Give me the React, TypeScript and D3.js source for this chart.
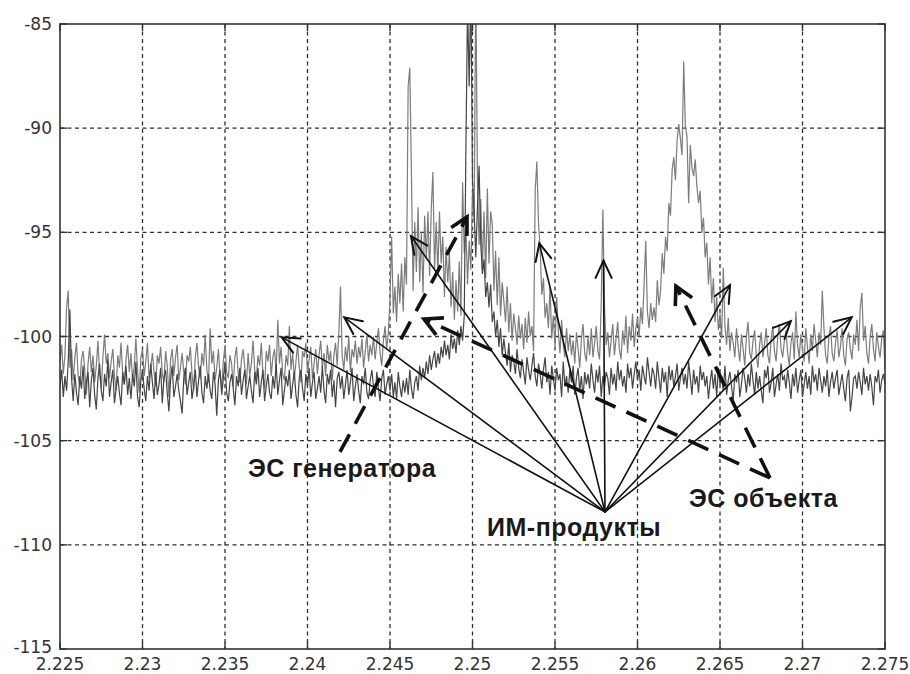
import React from 'react';
import * as d3 from 'd3';

// Spectrum sampling grid (GHz)
const FREQ_START = 2.225;
const FREQ_STEP = 0.0001;

const xTicks = [2.225, 2.23, 2.235, 2.24, 2.245, 2.25, 2.255, 2.26, 2.265, 2.27, 2.275];
const xTickLabels = ['2.225', '2.23', '2.235', '2.24', '2.245', '2.25', '2.255', '2.26', '2.265', '2.27', '2.275'];
const yTicks = [-85, -90, -95, -100, -105, -110, -115];
const yTickLabels = ['-85', '-90', '-95', '-100', '-105', '-110', '-115'];

// Received level with the object present, dB
const withObject = [
  -101.2, -100.4, -101.8, -100.9, -98.6, -97.8, -101.5, -100.6, -102.1, -101.0,
  -100.3, -101.9, -102.4, -101.1, -100.7, -101.6, -102.8, -101.3, -100.5, -101.7,
  -100.9, -102.2, -101.4, -100.2, -101.8, -102.5, -101.0, -99.9, -101.3, -100.8,
  -102.0, -101.2, -100.6, -101.9, -102.6, -100.9, -101.5, -100.3, -101.8, -102.3,
  -101.1, -100.4, -101.7, -100.8, -102.1, -101.4, -100.1, -101.6, -102.7, -101.0,
  -100.6, -101.9, -101.2, -100.3, -102.0, -101.5, -100.8, -101.7, -102.4, -100.9,
  -101.3, -100.5, -101.8, -102.2, -100.7, -101.4, -102.9, -101.1, -100.6, -101.9,
  -101.0, -100.4, -102.1, -101.5, -100.8, -101.7, -102.3, -100.9, -101.2, -100.5,
  -101.8, -102.6, -101.0, -100.3, -101.5, -102.0, -100.8, -101.4, -99.9, -101.6,
  -102.2, -99.6, -101.3, -100.7, -102.1, -101.5, -100.6, -101.9, -102.5, -101.2,
  -100.4, -101.7, -102.0, -100.9, -101.3, -102.4, -101.0, -100.5, -101.8, -102.2,
  -101.1, -100.6, -101.5, -102.3, -100.8, -101.9, -101.3, -100.2, -101.6, -102.0,
  -100.9, -101.4, -100.3, -101.8, -102.5, -100.7, -101.2, -100.4, -101.9, -101.0,
  -100.6, -101.7, -99.2, -101.3, -100.5, -101.8, -102.1, -100.9, -101.4, -99.5,
  -101.6, -100.8, -102.0, -101.2, -100.4, -101.5, -102.2, -100.7, -101.0, -100.3,
  -101.7, -101.1, -100.5, -102.0, -101.3, -100.6, -101.8, -100.9, -100.2, -101.5,
  -100.8, -101.9, -100.4, -101.2, -100.7, -102.1, -100.9, -100.3, -101.4, -99.8,
  -97.6, -100.9, -101.6, -100.5, -101.2, -100.0, -101.7, -100.6, -101.0, -100.2,
  -101.3, -100.5, -101.0, -100.1, -101.5, -100.7, -99.9, -101.2, -100.4, -100.9,
  -100.0, -101.1, -100.3, -99.6, -100.8, -101.4, -100.2, -99.5, -100.6, -99.8,
  -98.2, -95.2, -98.9, -97.6, -99.3, -97.0, -98.4, -96.5, -98.8, -96.2,
  -97.5, -88.0, -87.1, -92.3, -97.8, -94.5, -96.9, -93.8, -97.4, -95.0,
  -97.9, -94.2, -96.3, -94.0, -97.1, -93.9, -92.1, -96.8, -94.5, -97.0,
  -94.0, -96.5, -95.2, -98.1, -95.7, -97.4, -96.0, -98.6, -96.9, -99.2,
  -97.3, -98.8, -96.4, -99.0, -92.6, -96.0, -94.8, -97.5, -95.4, -96.8,
  -93.0, -94.5, -83.0, -92.5, -95.6, -93.4, -96.8, -94.0, -97.2, -92.9,
  -96.5, -94.0, -94.6, -97.8, -95.9, -98.5, -96.2, -99.0, -97.4, -98.3,
  -99.3, -97.6, -99.8, -98.4, -100.2, -98.9, -99.6, -100.4, -99.0, -100.1,
  -99.4, -100.6, -99.1, -100.3, -98.8, -100.0, -99.5, -100.7, -93.0, -91.6,
  -94.5, -95.8, -98.0, -97.2, -99.1, -98.4, -99.6, -97.6, -100.1, -99.0,
  -100.5, -98.1, -99.7, -100.8, -99.2, -100.4, -101.0, -99.6, -100.7, -99.9,
  -100.9, -100.2, -101.3, -99.8, -100.6, -101.5, -100.1, -99.4, -100.8, -101.2,
  -100.0, -100.9, -99.6, -101.0, -100.3, -99.5, -100.7, -101.1, -98.5, -93.9,
  -98.6, -100.4, -99.8, -101.0, -100.2, -99.4, -100.9, -100.1, -99.3, -100.6,
  -101.1, -99.7, -100.4, -99.0, -100.8, -99.5, -100.2, -98.9, -100.5, -99.6,
  -99.1, -100.0, -98.6, -99.4, -97.5, -95.4, -98.8, -99.6, -98.4, -99.2,
  -98.6, -99.3, -97.3, -98.5, -97.8, -96.0, -97.0, -95.2, -95.9, -93.6,
  -94.2, -92.0, -91.4, -92.5, -90.6, -89.8, -90.5, -91.3, -86.8, -89.9,
  -90.4, -93.6, -90.8, -91.9, -92.3, -91.5, -92.8, -93.6, -93.0, -95.0,
  -94.3, -96.2, -95.5, -97.5, -96.2, -98.4, -97.2, -99.3, -98.1, -99.7,
  -98.9, -100.1, -96.7, -99.5, -100.4, -99.1, -100.7, -99.8, -100.3, -101.0,
  -99.6, -100.5, -101.2, -99.9, -100.6, -101.4, -100.0, -99.3, -100.8, -101.1,
  -100.2, -99.7, -100.9, -101.5, -100.4, -99.8, -101.0, -100.3, -99.6, -100.9,
  -101.3, -100.1, -99.5, -100.7, -101.2, -100.0, -99.4, -100.6, -101.0, -100.2,
  -99.7, -100.8, -101.4, -100.3, -99.8, -101.1, -98.8, -100.4, -101.0, -99.9,
  -100.6, -101.2, -99.6, -100.5, -101.3, -99.9, -100.7, -99.4, -100.2, -101.0,
  -99.8, -100.4, -97.8, -99.6, -100.9, -101.3, -100.0, -99.5, -100.8, -101.2,
  -100.3, -99.7, -101.0, -100.5, -99.6, -100.9, -101.4, -100.1, -99.8, -100.6,
  -101.1, -99.9, -100.4, -99.2, -100.7, -98.6, -97.9, -100.2, -99.5, -100.8,
  -101.3, -100.0, -99.4, -100.6, -101.2, -99.8, -100.5, -101.0, -100.1, -99.7,
  -101.6,
];

// Received level from the generator alone, dB
const generatorOnly = [
  -102.4, -101.6, -102.9, -101.9, -102.6, -101.2, -98.7, -102.0, -103.1, -101.8,
  -102.7, -103.3, -101.9, -102.5, -101.4, -103.0, -102.2, -101.7, -103.4, -102.1,
  -101.5, -102.8, -103.5, -102.0, -101.3, -102.6, -103.1, -101.8, -102.4, -101.1,
  -102.9, -102.2, -101.6, -103.2, -102.5, -101.9, -102.7, -103.3, -101.7, -102.3,
  -101.4, -102.8, -102.0, -103.0, -101.8, -102.4, -101.2, -102.9, -103.4, -102.1,
  -101.6, -102.5, -103.1, -101.9, -102.6, -101.3, -102.2, -103.0, -101.7, -102.8,
  -102.3, -101.5, -103.2, -102.0, -101.6, -102.7, -103.6, -102.1, -101.4, -102.9,
  -102.4, -101.8, -102.6, -103.1, -103.7, -102.0, -101.5, -102.8, -102.2, -101.7,
  -103.0, -102.4, -101.6, -102.9, -102.1, -101.4, -102.7, -103.2, -101.9, -102.5,
  -101.8, -102.6, -103.0, -101.7, -102.3, -103.8, -102.1, -101.6, -102.8, -102.0,
  -101.3, -102.7, -103.1, -102.2, -101.8, -102.5, -103.3, -101.9, -102.4, -101.5,
  -102.8, -102.1, -101.6, -103.0, -102.4, -101.9, -102.6, -103.2, -101.7, -102.3,
  -101.5, -102.9, -102.2, -101.6, -103.1, -102.4, -101.8, -102.7, -103.0, -101.9,
  -102.5, -101.3, -102.8, -102.1, -101.5, -103.3, -102.6, -101.9, -102.4, -101.6,
  -103.0, -102.3, -101.7, -102.8, -103.4, -102.0, -101.6, -102.5, -103.1, -101.8,
  -102.4, -101.5, -102.9, -102.2, -101.7, -103.0, -102.5, -101.9, -102.7, -101.4,
  -102.6, -103.2, -101.8, -102.3, -101.6, -102.9, -102.1, -103.4, -102.0, -101.7,
  -102.5, -101.9, -103.0, -102.3, -101.6, -102.8, -102.2, -101.5, -103.1, -102.4,
  -101.8, -102.6, -103.2, -101.9, -102.3, -101.5, -102.7, -103.0, -102.1, -101.6,
  -102.4, -102.9, -101.7, -102.5, -103.1, -102.0, -101.6, -102.8, -102.3, -101.9,
  -102.6, -101.8, -102.9, -102.2, -103.0, -101.7, -102.4, -102.9, -102.1, -102.7,
  -102.0, -102.8, -101.6, -102.5, -103.0, -102.2, -101.9, -102.6, -101.4, -102.1,
  -101.5, -102.0, -101.2, -101.8, -100.9, -101.6, -101.1, -100.7, -101.5, -100.8,
  -101.3, -100.5, -101.0, -100.2, -100.9, -100.4, -101.1, -99.9, -100.6, -100.1,
  -100.8, -99.7, -100.4, -99.5, -100.2, -99.0, -91.0, -84.0, -88.0, -83.0,
  -92.5, -94.0, -96.2, -93.8, -91.8, -95.5, -97.0, -96.3, -98.1, -97.4,
  -98.6, -97.5, -99.3, -98.8, -100.0, -99.2, -100.5, -99.6, -100.9, -100.1,
  -100.8, -101.4, -100.3, -101.7, -100.9, -101.2, -101.8, -100.6, -101.5, -102.0,
  -101.1, -101.7, -102.3, -101.0, -101.6, -102.1, -101.4, -100.8, -101.9, -102.4,
  -101.3, -101.8, -102.5, -101.6, -101.0, -102.2, -101.7, -102.8, -101.4, -102.0,
  -102.6, -101.5, -102.1, -101.8, -102.9, -101.2, -102.4, -101.9, -102.7, -101.6,
  -102.2, -101.4, -102.8, -102.0, -101.5, -102.6, -101.9, -103.0, -101.7, -102.3,
  -101.8, -102.5, -101.3, -102.1, -102.7, -101.6, -102.2, -101.4, -102.9, -101.9,
  -102.4, -101.7, -102.0, -102.8, -101.5, -102.3, -101.8, -102.6, -101.2, -102.1,
  -101.6, -102.4, -101.9, -102.7, -101.3, -102.0, -101.5, -102.5, -101.8, -101.2,
  -102.1, -101.6, -102.6, -101.4, -101.9, -102.3, -101.0, -101.7, -102.4, -101.5,
  -101.8, -102.5, -101.2, -102.0, -102.7, -101.5, -102.2, -101.7, -102.9, -101.4,
  -102.1, -101.6, -102.4, -101.9, -101.3, -102.6, -102.0, -101.5, -102.3, -101.8,
  -102.5, -101.2, -102.0, -102.8, -101.6, -102.3, -101.9, -102.7, -101.4, -102.1,
  -101.7, -102.4, -101.9, -103.0, -102.2, -101.6, -102.5, -101.8, -102.9, -101.5,
  -102.3, -101.9, -102.6, -101.4, -102.8, -102.1, -101.7, -102.4, -103.1, -101.8,
  -102.2, -101.6, -102.9, -102.3, -101.5, -102.0, -102.7, -101.8, -102.4, -101.3,
  -102.1, -102.8, -101.7, -102.5, -101.9, -102.6, -103.2, -101.6, -102.0, -101.4,
  -102.7, -102.2, -101.5, -102.9, -102.3, -101.8, -102.6, -101.3, -102.1, -101.9,
  -102.5, -101.6, -102.2, -103.0, -101.8, -102.4, -101.5, -102.7, -102.1, -101.6,
  -102.9, -102.3, -101.7, -102.5, -101.9, -102.8, -101.4, -102.2, -101.8, -102.6,
  -101.5, -102.1, -102.7, -101.9, -102.4, -101.6, -102.9, -102.2, -101.7, -102.5,
  -102.0, -101.6, -102.8, -102.3, -101.8, -102.5, -103.1, -102.0, -101.6, -103.6,
  -102.9, -102.0, -101.9, -102.5, -101.7, -102.2, -102.8, -101.5, -102.3, -101.9,
  -102.6, -101.8, -102.4, -103.3, -101.9, -102.2, -101.6, -102.7, -102.1, -101.8,
  -102.3,
];

// Annotations, in (frequency, level) coordinates
const imSource: [number, number] = [2.25803, -108.42];
const imTargets: [number, number][] = [
  [2.23844, -100.04],
  [2.24223, -99.08],
  [2.24627, -95.18],
  [2.25405, -95.53],
  [2.25794, -96.36],
  [2.26561, -97.53],
  [2.26929, -99.26],
  [2.27298, -99.08],
];
const genArrowFrom: [number, number] = [2.24197, -105.54];
const genArrowTo: [number, number] = [2.24967, -94.26];
const objVertex: [number, number] = [2.26803, -106.79];
const objTargets: [number, number][] = [
  [2.24706, -99.16],
  [2.26233, -97.58],
];
const labelTexts = ['ЭС генератора', 'ИМ-продукты', 'ЭС объекта'];
const labelAnchors: [number, number][] = [
  [2.23639, -106.74],
  [2.25088, -109.58],
  [2.26312, -108.18],
];

const W = 910;
const H = 674;
const M = { left: 60, right: 25, top: 24, bottom: 25 };

function arrowHead(tip: [number, number], from: [number, number], len: number, spreadDeg: number) {
  const ang = Math.atan2(from[1] - tip[1], from[0] - tip[0]);
  const s = (spreadDeg * Math.PI) / 180;
  const p1 = [tip[0] + len * Math.cos(ang + s), tip[1] + len * Math.sin(ang + s)];
  const p2 = [tip[0] + len * Math.cos(ang - s), tip[1] + len * Math.sin(ang - s)];
  return `M${p1[0]},${p1[1]}L${tip[0]},${tip[1]}L${p2[0]},${p2[1]}`;
}

export default function App() {
  const x = d3.scaleLinear().domain([2.225, 2.275]).range([M.left, W - M.right]);
  const y = d3.scaleLinear().domain([-115, -85]).range([H - M.bottom, M.top]);
  const x0 = x.range()[0];
  const x1 = x.range()[1];
  const yTop = y.range()[1];
  const yBot = y.range()[0];

  const line = d3
    .line<number>()
    .x((_, i) => x(FREQ_START + i * FREQ_STEP))
    .y((d) => y(d));

  const P = (p: [number, number]): [number, number] => [x(p[0]), y(p[1])];
  const src = P(imSource);
  const gFrom = P(genArrowFrom);
  const gTo = P(genArrowTo);
  const ov = P(objVertex);

  const tickLen = 7;
  const gridColor = '#2e2e2e';
  const axisFont = "'DejaVu Sans', Verdana, sans-serif";
  const labelFont = "'Liberation Sans', Arial, Helvetica, sans-serif";

  return (
    <svg
      width={W}
      height={H}
      style={{ position: 'absolute', left: 0, top: 0, background: '#ffffff' }}
    >
      <defs>
        <clipPath id="plotArea">
          <rect x={x0} y={yTop} width={x1 - x0} height={yBot - yTop} />
        </clipPath>
      </defs>

      {/* grid */}
      <g stroke={gridColor} strokeWidth={1.3} strokeDasharray="4,3.5">
        {xTicks.slice(1, -1).map((t) => (
          <line key={'gx' + t} x1={x(t)} x2={x(t)} y1={yTop} y2={yBot} />
        ))}
        {yTicks.slice(1, -1).map((t) => (
          <line key={'gy' + t} x1={x0} x2={x1} y1={y(t)} y2={y(t)} />
        ))}
      </g>

      {/* spectra */}
      <g clipPath="url(#plotArea)" fill="none" strokeWidth={1.2}>
        <path d={line(withObject) || ''} stroke="#7c7c7c" />
        <path d={line(generatorOnly) || ''} stroke="#454545" />
      </g>

      {/* axes box and ticks */}
      <rect x={x0} y={yTop} width={x1 - x0} height={yBot - yTop} fill="none" stroke="#333" strokeWidth={1.6} />
      <g stroke="#333" strokeWidth={1.4}>
        {xTicks.map((t) => (
          <g key={'tx' + t}>
            <line x1={x(t)} x2={x(t)} y1={yBot} y2={yBot - tickLen} />
            <line x1={x(t)} x2={x(t)} y1={yTop} y2={yTop + tickLen} />
          </g>
        ))}
        {yTicks.map((t) => (
          <g key={'ty' + t}>
            <line x1={x0} x2={x0 + tickLen} y1={y(t)} y2={y(t)} />
            <line x1={x1} x2={x1 - tickLen} y1={y(t)} y2={y(t)} />
          </g>
        ))}
      </g>

      {/* tick labels */}
      <g fontFamily={axisFont} fontSize={17} fill="#333">
        {xTicks.map((t, i) => (
          <text key={'lx' + t} x={x(t)} y={yBot + 21} textAnchor="middle">
            {xTickLabels[i]}
          </text>
        ))}
        {yTicks.map((t, i) => (
          <text key={'ly' + t} x={x0 - 8} y={y(t) - (t === -115 ? 2 : 0)} dy="0.36em" textAnchor="end">
            {yTickLabels[i]}
          </text>
        ))}
      </g>

      {/* intermodulation product arrows */}
      <g stroke="#111" strokeWidth={1.6} fill="none" strokeLinecap="round">
        {imTargets.map((t, i) => {
          const tip = P(t);
          return (
            <g key={'im' + i}>
              <line x1={src[0]} y1={src[1]} x2={tip[0]} y2={tip[1]} />
              <path d={arrowHead(tip, src, 19, 25)} strokeWidth={2} />
            </g>
          );
        })}
      </g>

      {/* generator emission arrow */}
      <g stroke="#111" strokeWidth={3.6} fill="none">
        <line x1={gFrom[0]} y1={gFrom[1]} x2={gTo[0]} y2={gTo[1]} strokeDasharray="20,12" />
        <path d={arrowHead(gTo, gFrom, 19, 28)} strokeLinejoin="miter" />
      </g>

      {/* object emission arrows */}
      <g stroke="#111" strokeWidth={3.6} fill="none">
        {objTargets.map((t, i) => {
          const tip = P(t);
          return (
            <g key={'ob' + i}>
              <line x1={ov[0]} y1={ov[1]} x2={tip[0]} y2={tip[1]} strokeDasharray="22,12" />
              <path d={arrowHead(tip, ov, 20, 28)} />
            </g>
          );
        })}
      </g>

      {/* annotation labels */}
      <g fontFamily={labelFont} fontSize={25} fontWeight="bold" fill="#1a1a1a" letterSpacing={0.5}>
        {labelTexts.map((s, i) => (
          <text key={s} x={x(labelAnchors[i][0])} y={y(labelAnchors[i][1])}>
            {s}
          </text>
        ))}
      </g>
    </svg>
  );
}
